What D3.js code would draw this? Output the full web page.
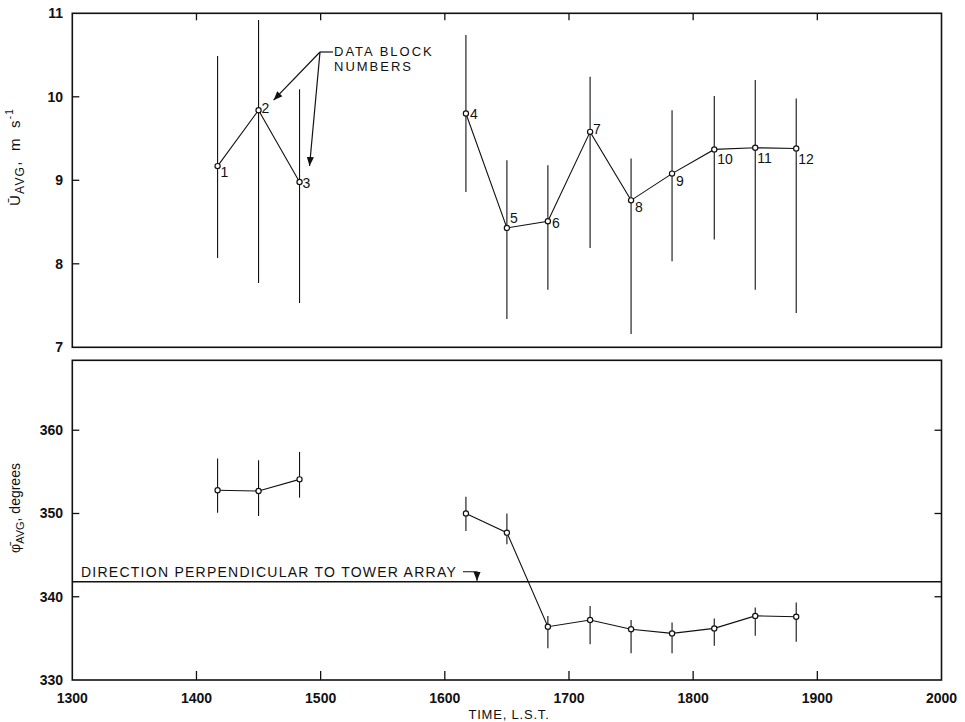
<!DOCTYPE html>
<html>
<head>
<meta charset="utf-8">
<script src="https://cdn.jsdelivr.net/npm/d3@7"></script>
<style>
  html, body { margin: 0; padding: 0; background: #fff; }
  svg { display: block; }
  text { font-family: "Liberation Sans", Arial, Helvetica, sans-serif; fill: #111; }
</style>
</head>
<body>
<svg id="chart" width="965" height="722"></svg>
<script>
// ---------------- DATA ----------------
const blockNumbers = [1, 2, 3, 4, 5, 6, 7, 8, 9, 10, 11, 12];
const times   = [1417, 1450, 1483, 1617, 1650, 1683, 1717, 1750, 1783, 1817, 1850, 1883];
const uAvg    = [9.17, 9.84, 8.98, 9.80, 8.43, 8.51, 9.58, 8.76, 9.08, 9.37, 9.39, 9.38];
const uHigh   = [10.49, 10.92, 10.09, 10.74, 9.24, 9.18, 10.24, 9.26, 9.84, 10.01, 10.20, 9.98];
const uLow    = [8.07, 7.77, 7.53, 8.86, 7.34, 7.69, 8.19, 7.16, 8.03, 8.29, 7.69, 7.41];
const phiAvg  = [352.8, 352.7, 354.1, 350.0, 347.7, 336.4, 337.2, 336.1, 335.6, 336.2, 337.7, 337.6];
const phiHigh = [356.6, 356.4, 357.4, 352.0, 350.0, 337.7, 338.9, 337.2, 336.9, 337.4, 338.7, 339.3];
const phiLow  = [350.1, 349.7, 351.9, 347.9, 346.3, 333.8, 334.3, 333.2, 333.2, 334.1, 335.3, 334.6];
const segments = [[0, 1, 2], [3, 4, 5, 6, 7, 8, 9, 10, 11]];
const perpendicularDirection = 341.8;
const xTicks = [1300, 1400, 1500, 1600, 1700, 1800, 1900, 2000];
const uTicks = [7, 8, 9, 10, 11];
const phiTicks = [330, 340, 350, 360];

// ---------------- LAYOUT ----------------
const svg = d3.select("#chart");
const left = 72.3, right = 941.5;
const x = d3.scaleLinear().domain([1300, 2000]).range([left, right]);
const yU = d3.scaleLinear().domain([7, 11]).range([347.3, 13.3]);
const yP = d3.scaleLinear().domain([330, 368.4]).range([680, 360.3]);

// label offsets for block numbers (layout only)
const numOffsets = [[3, 11], [3, 3], [3, 6], [4, 5], [3, -5], [4, 7], [3, 2], [4, 12], [4, 12], [3, 15], [2, 15], [2, 15]];

const defs = svg.append("defs");
defs.append("marker").attr("id", "arr").attr("viewBox", "0 0 10 10")
  .attr("refX", 10).attr("refY", 5).attr("markerWidth", 9).attr("markerHeight", 9)
  .attr("markerUnits", "userSpaceOnUse").attr("orient", "auto")
  .append("path").attr("d", "M0,1 L10,5 L0,9 Z").attr("fill", "#111");

const ink = "#111";

function panel(yScale, tickVals, opts) {
  const g = svg.append("g");
  const [y0, y1] = yScale.range();
  g.append("rect").attr("x", left).attr("y", y1).attr("width", right - left).attr("height", y0 - y1)
    .attr("fill", "none").attr("stroke", ink).attr("stroke-width", 1.6);
  const inner = tickVals.filter(v => yScale(v) < y0 - 2 && yScale(v) > y1 + 2);
  g.selectAll(".ytl").data(inner).join("line")
    .attr("x1", left).attr("x2", left + 7).attr("y1", d => yScale(d)).attr("y2", d => yScale(d))
    .attr("stroke", ink).attr("stroke-width", 1.3);
  if (opts.rightTicks) {
    g.selectAll(".ytr").data(inner).join("line")
      .attr("x1", right).attr("x2", right - 7).attr("y1", d => yScale(d)).attr("y2", d => yScale(d))
      .attr("stroke", ink).attr("stroke-width", 1.3);
  }
  g.selectAll(".ylab").data(tickVals).join("text")
    .attr("x", 63).attr("y", d => yScale(d) + 5)
    .attr("text-anchor", "end").attr("font-size", 14).attr("font-weight", "bold")
    .text(d => d);
  const innerX = xTicks.filter(v => v > 1300 && v < 2000);
  if (opts.xTop) {
    g.selectAll(".xtt").data(innerX).join("line")
      .attr("x1", d => x(d)).attr("x2", d => x(d)).attr("y1", y1).attr("y2", y1 + 7)
      .attr("stroke", ink).attr("stroke-width", 1.3);
  }
  if (opts.xBottom) {
    g.selectAll(".xtb").data(innerX).join("line")
      .attr("x1", d => x(d)).attr("x2", d => x(d)).attr("y1", y0).attr("y2", y0 - 9)
      .attr("stroke", ink).attr("stroke-width", 1.3);
  }
  return g;
}

function series(g, yScale, avg, lo, hi, showNumbers) {
  g.selectAll(".eb").data(times).join("line")
    .attr("x1", d => x(d)).attr("x2", d => x(d))
    .attr("y1", (d, i) => yScale(lo[i])).attr("y2", (d, i) => yScale(hi[i]))
    .attr("stroke", ink).attr("stroke-width", 1.1);
  const line = d3.line().x(i => x(times[i])).y(i => yScale(avg[i]));
  g.selectAll(".seg").data(segments).join("path")
    .attr("d", line).attr("fill", "none").attr("stroke", ink).attr("stroke-width", 1.1);
  g.selectAll(".pt").data(times).join("circle")
    .attr("cx", d => x(d)).attr("cy", (d, i) => yScale(avg[i])).attr("r", 2.6)
    .attr("fill", "#fff").attr("stroke", ink).attr("stroke-width", 1.2);
  if (showNumbers) {
    g.selectAll(".num").data(blockNumbers).join("text")
      .attr("x", (d, i) => x(times[i]) + numOffsets[i][0])
      .attr("y", (d, i) => yScale(avg[i]) + numOffsets[i][1])
      .attr("font-size", 14).text(d => d);
  }
}

// ---------- top panel ----------
const gTop = panel(yU, uTicks, { xTop: true, rightTicks: false });
series(gTop, yU, uAvg, uLow, uHigh, true);

// annotation "DATA BLOCK NUMBERS"
const ann = svg.append("g");
ann.append("text").attr("x", 334).attr("y", 56).attr("font-size", 13).attr("letter-spacing", 2).text("DATA BLOCK");
ann.append("text").attr("x", 334).attr("y", 71).attr("font-size", 13).attr("letter-spacing", 2).text("NUMBERS");
ann.append("line").attr("x1", 333).attr("y1", 52).attr("x2", 320).attr("y2", 52)
  .attr("stroke", ink).attr("stroke-width", 1.2);
ann.append("line").attr("x1", 320).attr("y1", 52).attr("x2", x(times[1]) + 15).attr("y2", yU(uAvg[1]) - 10)
  .attr("stroke", ink).attr("stroke-width", 1.2).attr("marker-end", "url(#arr)");
ann.append("line").attr("x1", 320).attr("y1", 52).attr("x2", x(times[2]) + 10).attr("y2", yU(uAvg[2]) - 16)
  .attr("stroke", ink).attr("stroke-width", 1.2).attr("marker-end", "url(#arr)");

// ---------- bottom panel ----------
const gBot = panel(yP, phiTicks, { xBottom: true, rightTicks: true });
gBot.append("line").attr("x1", left).attr("x2", right)
  .attr("y1", yP(perpendicularDirection)).attr("y2", yP(perpendicularDirection))
  .attr("stroke", ink).attr("stroke-width", 1.3);
gBot.append("text").attr("x", 81).attr("y", yP(perpendicularDirection) - 5)
  .attr("font-size", 14).attr("letter-spacing", 1.25)
  .text("DIRECTION PERPENDICULAR TO TOWER ARRAY");
gBot.append("path")
  .attr("d", `M463,${yP(perpendicularDirection) - 10} H477 V${yP(perpendicularDirection) - 1}`)
  .attr("fill", "none").attr("stroke", ink).attr("stroke-width", 1.2).attr("marker-end", "url(#arr)");
series(gBot, yP, phiAvg, phiLow, phiHigh, false);

// x tick labels
svg.selectAll(".xlab").data(xTicks).join("text")
  .attr("x", d => x(d)).attr("y", 703).attr("text-anchor", "middle")
  .attr("font-size", 14).attr("font-weight", "bold").text(d => d);

// x axis title
svg.append("text").attr("x", 509).attr("y", 719).attr("text-anchor", "middle")
  .attr("font-size", 13).attr("letter-spacing", 0.8).text("TIME, L.S.T.");

// y axis titles
const t1 = svg.append("text").attr("transform", "translate(20,157) rotate(-90)")
  .attr("text-anchor", "middle").attr("font-size", 15).attr("letter-spacing", 1.2).attr("word-spacing", 4);
t1.append("tspan").text("\u016A");
t1.append("tspan").attr("font-size", 12).attr("dy", 4).text("AVG");
t1.append("tspan").attr("dy", -4).text(", m s");
t1.append("tspan").attr("font-size", 10).attr("dy", -7).text("-1");

const t2 = svg.append("text").attr("transform", "translate(20,508) rotate(-90)")
  .attr("text-anchor", "middle").attr("font-size", 14);
t2.append("tspan").text("\u03C6\u0304");
t2.append("tspan").attr("font-size", 11).attr("dy", 4).text("AVG");
t2.append("tspan").attr("dy", -4).text(", degrees");
</script>
</body>
</html>
